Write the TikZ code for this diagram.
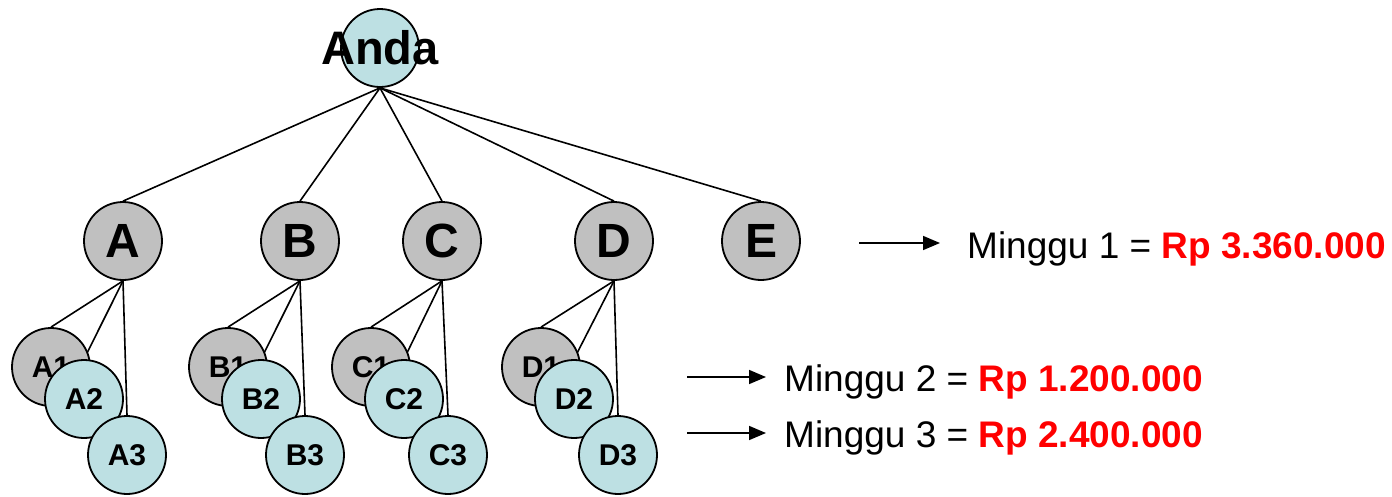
\documentclass[tikz,border=0pt]{standalone}
\usepackage{fontspec}
\setmainfont{Liberation Sans}
\usetikzlibrary{arrows.meta}
\definecolor{lblue}{RGB}{189,224,227}
\definecolor{lgray}{RGB}{192,192,192}
\definecolor{rpred}{RGB}{255,0,0}
\pgfdeclarelayer{bg}
\pgfsetlayers{bg,main}
\tikzset{
  circ/.style={circle, draw, line width=1.8pt, minimum size=78pt, inner sep=0pt},
  gnode/.style={circ, fill=lgray},
  bnode/.style={circ, fill=lblue},
  bigtxt/.style={font=\fontsize{48}{48}\selectfont\bfseries},
  smalltxt/.style={font=\fontsize{30}{30}\selectfont\bfseries},
  conn/.style={line width=1.6pt},
  arr/.style={line width=1.6pt, -{Triangle[length=17pt,width=14pt]}},
  mtxt/.style={anchor=base west, inner sep=0pt, font=\fontsize{37}{37}\selectfont}
}
\begin{document}
\begin{tikzpicture}[x=1pt,y=-1pt]
\useasboundingbox (0,0) rectangle (1392,496);
% root
\node[bnode, font=\fontsize{47}{47}\selectfont\bfseries] (anda) at (380,48) {\makebox[0pt]{Anda}};
% level 1
\node[gnode, bigtxt] (A) at (123,241) {\makebox[0pt]{A}};
\node[gnode, bigtxt] (B) at (300,241) {\makebox[0pt]{B}};
\node[gnode, bigtxt] (C) at (442,241) {\makebox[0pt]{C}};
\node[gnode, bigtxt] (D) at (614,241) {\makebox[0pt]{D}};
\node[gnode, bigtxt] (E) at (761,241) {\makebox[0pt]{E}};
% level 2
\node[gnode, smalltxt] (A1) at (51,367) {\makebox[0pt]{A1}};
\node[bnode, smalltxt] (A2) at (84,399) {\makebox[0pt]{A2}};
\node[bnode, smalltxt] (A3) at (127,455) {\makebox[0pt]{A3}};
\node[gnode, smalltxt] (B1) at (228,367) {\makebox[0pt]{B1}};
\node[bnode, smalltxt] (B2) at (261,399) {\makebox[0pt]{B2}};
\node[bnode, smalltxt] (B3) at (305,455) {\makebox[0pt]{B3}};
\node[gnode, smalltxt] (C1) at (371,367) {\makebox[0pt]{C1}};
\node[bnode, smalltxt] (C2) at (404,399) {\makebox[0pt]{C2}};
\node[bnode, smalltxt] (C3) at (448,455) {\makebox[0pt]{C3}};
\node[gnode, smalltxt] (D1) at (541,367) {\makebox[0pt]{D1}};
\node[bnode, smalltxt] (D2) at (574,399) {\makebox[0pt]{D2}};
\node[bnode, smalltxt] (D3) at (618,455) {\makebox[0pt]{D3}};
% connectors
\begin{pgfonlayer}{bg}
\foreach \n in {A,B,C,D,E}{\draw[conn] (anda.south) -- (\n.north);}
\foreach \n in {A,B,C,D}{
  \draw[conn] (\n.south) -- (\n1.north);
  \draw[conn] (\n.south) -- (\n2.north);
  \draw[conn] (\n.south) -- (\n3.north);
}
\end{pgfonlayer}
% texts
\node[mtxt] (m1) at (967,258) {Minggu 1 = \textcolor{rpred}{\bfseries Rp 3.360.000}};
\node[mtxt] (m2) at (784,391) {Minggu 2 = \textcolor{rpred}{\bfseries Rp 1.200.000}};
\node[mtxt] (m3) at (784,447) {Minggu 3 = \textcolor{rpred}{\bfseries Rp 2.400.000}};
% arrows
\coordinate (a1s) at (859,243);
\coordinate (a1e) at (940,243);
\coordinate (a2s) at (687,377);
\coordinate (a2e) at (766,377);
\coordinate (a3s) at (687,433);
\coordinate (a3e) at (766,433);
\draw[arr] (a1s) -- (a1e);
\draw[arr] (a2s) -- (a2e);
\draw[arr] (a3s) -- (a3e);
\end{tikzpicture}
\end{document}
